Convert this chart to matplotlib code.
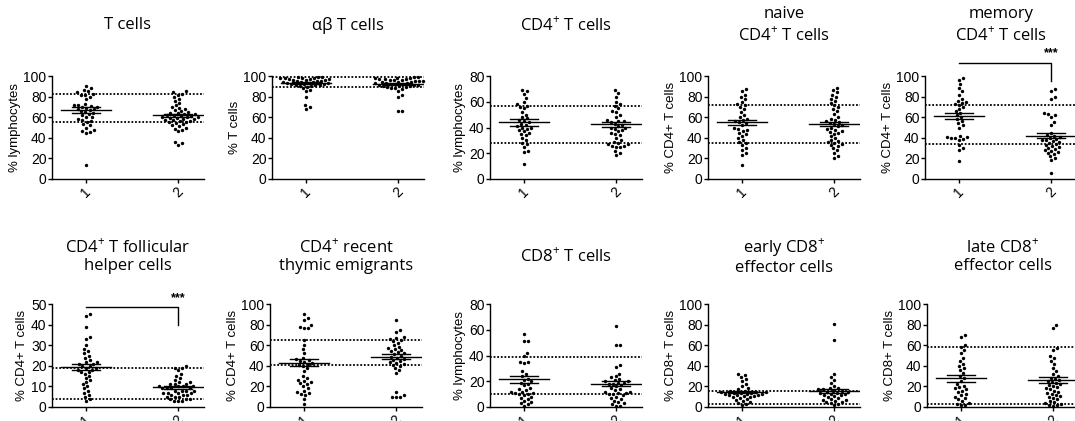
import numpy as np
import matplotlib
matplotlib.use('Agg')
import matplotlib.pyplot as plt

plt.rcParams['font.family'] = ['Liberation Sans', 'DejaVu Sans']
plt.rcParams['mathtext.fontset'] = 'custom'
plt.rcParams['mathtext.rm'] = 'Open Sans'

# ---- data (group 1, group 2 per panel) ----
titles = ['T cells', 'αβ T cells', 'CD4$^{+}$ T cells', 'naive\nCD4$^{+}$ T cells',
          'memory\nCD4$^{+}$ T cells', 'CD4$^{+}$ T follicular\nhelper cells',
          'CD4$^{+}$ recent\nthymic emigrants', 'CD8$^{+}$ T cells',
          'early CD8$^{+}$\neffector cells', 'late CD8$^{+}$\neffector cells']
ylabels = ['% lymphocytes', '% T cells', '% lymphocytes', '% CD4+ T cells', '% CD4+ T cells',
           '% CD4+ T cells', '% CD4+ T cells', '% lymphocytes', '% CD8+ T cells', '% CD8+ T cells']
ytops = [100, 100, 80, 100, 100, 50, 100, 80, 100, 100]
ysteps = [20, 20, 20, 20, 20, 10, 20, 20, 20, 20]
ref_hi = [83, 99, 57, 72, 72, 19, 65, 39, 16, 58]
ref_lo = [55, 89, 28, 35, 34, 4, 41, 10, 3, 3]
means_1 = [67, 93, 44, 55, 61, 19.5, 43, 21.5, 14.5, 28]
means_2 = [62, 92, 42.5, 53.5, 42, 9.5, 49, 18, 15.5, 26]
sems_1 = [2.5, 1.0, 2.5, 2.5, 3.0, 1.5, 3.5, 2.5, 1.0, 3.5]
sems_2 = [1.5, 0.8, 2.0, 2.0, 2.5, 0.7, 2.5, 2.0, 1.5, 3.0]
signif = [None, None, None, None, (113, 95, 122), (48.5, 40, 53), None, None, None, None]

tcells_1 = [90, 88, 86, 85, 84, 83, 82, 82, 80, 78, 73, 72, 72, 71, 70, 70, 69, 68, 68, 67, 66,
            65, 64, 63, 62, 60, 60, 58, 57, 56, 55, 53, 52, 50, 48, 47, 46, 45, 14]
tcells_2 = [85, 84, 83, 82, 80, 78, 76, 74, 72, 70, 69, 68, 67, 66, 65, 64, 64, 63, 63, 62, 62,
            61, 61, 60, 60, 60, 59, 59, 58, 58, 57, 57, 56, 56, 55, 55, 54, 53, 52, 51, 50, 49,
            48, 47, 36, 35, 33]
ab_1 = [99, 99, 99, 98, 98, 98, 98, 97, 97, 97, 96, 96, 96, 95, 95, 95, 94, 94, 94, 93, 93, 93,
        92, 92, 92, 91, 91, 91, 90, 90, 89, 88, 86, 85, 80, 72, 70, 68]
ab_2 = [99, 99, 98, 98, 98, 97, 97, 97, 96, 96, 96, 95, 95, 95, 94, 94, 94, 93, 93, 93, 92, 92,
        92, 91, 91, 91, 90, 90, 90, 89, 89, 88, 88, 87, 85, 82, 80, 66, 66]
cd4_1 = [69, 68, 66, 63, 60, 58, 57, 56, 55, 52, 50, 48, 47, 46, 45, 44, 43, 42, 41, 40, 40, 39,
         38, 37, 36, 35, 34, 32, 30, 28, 27, 25, 22, 21, 12]
cd4_2 = [69, 67, 64, 60, 58, 57, 55, 53, 52, 50, 48, 46, 45, 45, 44, 43, 42, 41, 40, 40, 39, 38,
         37, 36, 35, 34, 32, 30, 29, 28, 27, 27, 26, 26, 25, 25, 22, 20, 19]
naive_1 = [87, 85, 82, 80, 78, 75, 73, 72, 70, 68, 65, 62, 60, 58, 57, 56, 55, 54, 52, 50, 49,
           48, 47, 45, 44, 42, 40, 38, 36, 35, 33, 30, 28, 25, 23, 14]
naive_2 = [88, 86, 84, 82, 80, 78, 76, 74, 72, 70, 68, 66, 63, 60, 58, 57, 56, 55, 54, 53, 52,
           51, 50, 49, 48, 47, 46, 45, 44, 42, 40, 38, 37, 36, 35, 34, 33, 32, 30, 28, 25, 22, 20]
memory_1 = [98, 96, 92, 88, 85, 82, 78, 76, 75, 74, 73, 72, 70, 68, 66, 64, 62, 60, 58, 56, 54,
            52, 50, 42, 41, 41, 40, 40, 39, 38, 33, 30, 28, 17]
memory_2 = [87, 85, 80, 78, 64, 63, 62, 60, 55, 52, 45, 43, 42, 41, 40, 39, 38, 38, 37, 36, 35,
            34, 33, 32, 31, 30, 29, 28, 27, 26, 25, 24, 22, 20, 18, 6]
tfh_1 = [45, 44, 39, 34, 33, 30, 28, 27, 26, 25, 24, 23, 22, 22, 21, 21, 20, 20, 19, 19, 18, 18,
         17, 17, 16, 15, 14, 13, 12, 11, 10, 9, 8, 7, 6, 5, 4, 3]
tfh_2 = [20, 19, 19, 18, 16, 15, 14, 13, 12, 12, 11, 11, 11, 10, 10, 10, 10, 9, 9, 9, 9, 8, 8,
         8, 8, 7, 7, 7, 7, 6, 6, 6, 5, 5, 5, 4, 4, 4, 3, 3, 3]
rte_1 = [90, 86, 84, 80, 78, 77, 77, 65, 60, 56, 52, 48, 47, 46, 45, 44, 43, 42, 41, 40, 38, 35,
         30, 28, 26, 25, 24, 23, 22, 20, 18, 16, 15, 14, 13, 12, 8, 3]
rte_2 = [84, 75, 73, 68, 67, 66, 65, 64, 62, 60, 58, 57, 56, 55, 54, 53, 52, 51, 50, 49, 48, 47,
         46, 45, 44, 43, 42, 41, 40, 38, 36, 33, 15, 12, 10, 10, 10]
cd8_1 = [57, 51, 51, 42, 40, 35, 35, 34, 28, 26, 24, 22, 21, 20, 19, 18, 17, 15, 14, 13, 12, 12,
         11, 11, 10, 10, 9, 8, 7, 6, 5, 4, 3, 2, 1]
cd8_2 = [63, 48, 48, 33, 31, 26, 24, 23, 22, 21, 20, 20, 19, 19, 18, 18, 17, 16, 15, 14, 13, 12,
         12, 11, 11, 10, 10, 9, 8, 7, 6, 5, 4, 3, 2, 1, 1]
early_1 = [32, 31, 29, 27, 25, 22, 20, 18, 17, 16, 16, 15, 15, 15, 14, 14, 14, 13, 13, 13, 12,
           12, 12, 11, 11, 10, 10, 9, 8, 7, 6, 5, 4, 3, 2]
early_2 = [81, 65, 32, 29, 26, 23, 20, 18, 18, 17, 17, 16, 16, 15, 15, 14, 14, 13, 13, 12, 12,
           11, 10, 9, 8, 7, 7, 6, 5, 5, 4, 3, 2]
late_1 = [70, 68, 60, 58, 55, 52, 48, 45, 42, 40, 38, 36, 33, 30, 28, 25, 22, 20, 19, 18, 17, 16,
          15, 13, 12, 10, 9, 8, 6, 4, 3, 2, 2]
late_2 = [80, 77, 57, 55, 50, 48, 45, 42, 38, 35, 32, 30, 28, 27, 26, 25, 24, 23, 22, 21, 20, 19,
          18, 17, 16, 15, 14, 13, 12, 11, 10, 9, 8, 6, 5, 4, 3, 2, 2, 1]

groups = [(tcells_1, tcells_2), (ab_1, ab_2), (cd4_1, cd4_2), (naive_1, naive_2),
          (memory_1, memory_2), (tfh_1, tfh_2), (rte_1, rte_2), (cd8_1, cd8_2),
          (early_1, early_2), (late_1, late_2)]
categories = ['1', '2']


def swarm(ax, x0, vals, d=4.2):
    # simple beeswarm in pixel space
    tr = ax.transData
    px_per_x = tr.transform((1, 0))[0] - tr.transform((0, 0))[0]
    ys = [tr.transform((0, v))[1] for v in vals]
    order = np.argsort(ys)
    placed = []
    xs = np.zeros(len(vals))
    for i in order:
        y = ys[i]
        cands = [0.0]
        for px, py in placed:
            dy = abs(py - y)
            if dy < d:
                dx = np.sqrt(d * d - dy * dy)
                cands += [px + dx, px - dx]
        cands.sort(key=abs)
        for c in cands:
            ok = all((c - px) ** 2 + (y - py) ** 2 >= d * d - 1e-6 for px, py in placed)
            if ok:
                break
        placed.append((c, y))
        xs[i] = x0 + c / px_per_x
    return xs


fig = plt.figure(figsize=(10.75, 4.21), dpi=100)
W, H = 1075, 421
lefts = [52, 272, 490, 708, 925, 52, 270, 490, 708, 927]
tops = [76] * 5 + [304] * 5
title_y = [25] * 5 + [256] * 5
aw, ah = 152, 103

for k in range(10):
    ax = fig.add_axes([lefts[k] / W, 1 - (tops[k] + ah) / H, aw / W, ah / H])
    ax.set_xlim(0.63, 2.28)
    ax.set_ylim(0, ytops[k])
    ax.set_yticks(np.arange(0, ytops[k] + 1, ysteps[k]))
    ax.set_xticks([1, 2])
    ax.set_xticklabels(categories, rotation=45, fontsize=10)
    ax.tick_params(axis='y', labelsize=10, length=3, width=1, pad=1)
    ax.tick_params(axis='x', length=3, width=1, pad=1)
    for s in ['top', 'right']:
        ax.spines[s].set_visible(False)
    for s in ['left', 'bottom']:
        ax.spines[s].set_linewidth(1)
    ax.set_ylabel(ylabels[k], fontsize=9.5, labelpad=2)

    for y in (ref_hi[k], ref_lo[k]):
        ax.axhline(y, color='black', lw=1.3, ls=(0, (1, 1)), zorder=1)

    for g, vals in enumerate(groups[k]):
        x0 = g + 1
        xs = swarm(ax, x0, vals)
        ax.scatter(xs, vals, s=6, color='black', zorder=3, clip_on=False, linewidths=0)
        m = [means_1, means_2][g][k]
        se = [sems_1, sems_2][g][k]
        ax.plot([x0 - 0.27, x0 + 0.27], [m, m], color='black', lw=1, zorder=4)
        ax.plot([x0 - 0.15, x0 + 0.15], [m + se, m + se], color='black', lw=1, zorder=4)
        ax.plot([x0 - 0.15, x0 + 0.15], [m - se, m - se], color='black', lw=1, zorder=4)

    if signif[k] is not None:
        yb, yv, ys = signif[k]
        ax.plot([1, 2, 2], [yb, yb, yv], color='black', lw=1, clip_on=False)
        ax.text(2, ys, '***', ha='center', va='center', fontsize=9, fontweight='bold')

    fig.text((lefts[k] + aw / 2) / W, 1 - title_y[k] / H, titles[k], ha='center', va='center',
             fontsize=12, family='Open Sans', linespacing=1.25)

fig.savefig('out.png', dpi=100)
